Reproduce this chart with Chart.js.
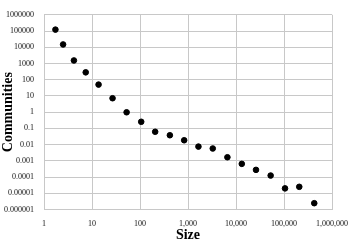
<!DOCTYPE html>
<html><head><meta charset="utf-8">
<script src="https://cdn.jsdelivr.net/npm/chart.js@4"></script>
<style>html,body{margin:0;padding:0;background:#fff}#c{display:block}</style>
</head><body>
<canvas id="c" width="358" height="243"></canvas>
<script>
const sizes = [1.73, 2.5, 4.2, 7.4, 13.7, 26.8, 52.6, 106, 207, 419, 832, 1650, 3280, 6620, 13200, 26100, 52700, 105000, 208000, 427000];
const communities = [122000, 14900, 1535, 284, 50, 7.2, 0.98, 0.255, 0.0618, 0.0377, 0.0185, 0.00755, 0.00578, 0.00166, 0.00065, 0.000277, 0.000124, 0.000020, 0.000025, 0.00000245];
const xTickValues = [1, 10, 100, 1000, 10000, 100000, 1000000];
const xTickLabels = ["1", "10", "100", "1,000", "10,000", "100,000", "1,000,000"];
const yTickValues = [0.000001, 0.00001, 0.0001, 0.001, 0.01, 0.1, 1, 10, 100, 1000, 10000, 100000, 1000000];
const yTickLabels = ["0.000001", "0.00001", "0.0001", "0.001", "0.01", "0.1", "1", "10", "100", "1000", "10000", "100000", "1000000"];

const pts = sizes.map((s, i) => ({x: s, y: communities[i]}));
const serif = "'Liberation Serif', 'DejaVu Serif', serif";

new Chart(document.getElementById('c'), {
  type: 'scatter',
  data: { datasets: [{ data: pts, backgroundColor: '#000', borderColor: '#000', pointRadius: 2.8, pointHoverRadius: 2.8 }] },
  options: {
    responsive: false, animation: false, devicePixelRatio: 1,
    layout: { padding: { top: 3, right: 19, left: 0, bottom: 0 } },
    plugins: { legend: { display: false }, tooltip: { enabled: false } },
    scales: {
      x: {
        type: 'logarithmic', min: 1, max: 1000000,
        afterBuildTicks: s => { s.ticks = xTickValues.map(v => ({value: v})); },
        afterFit: s => { s.height = 33.5; },
        ticks: { callback: (v, i) => xTickLabels[i], color: '#111', font: { family: serif, size: 8 }, maxRotation: 0, autoSkip: false, padding: 10 },
        grid: { color: '#c8c8c8', tickLength: 0 },
        border: { color: '#c8c8c8' },
        title: { display: true, text: 'Size', color: '#000', font: { family: serif, size: 14, weight: 'bold' }, padding: { top: 0, bottom: -1 } }
      },
      y: {
        type: 'logarithmic', min: 0.000001, max: 1000000,
        afterBuildTicks: s => { s.ticks = yTickValues.map(v => ({value: v})); },
        afterFit: s => { s.width = 44; },
        ticks: { callback: (v, i) => yTickLabels[i], color: '#111', font: { family: serif, size: 8 }, autoSkip: false, padding: 10 },
        grid: { color: '#c8c8c8', tickLength: 0 },
        border: { color: '#c8c8c8' },
        title: { display: true, text: 'Communities', color: '#000', font: { family: serif, size: 14, weight: 'bold' }, padding: 0 }
      }
    }
  }
});
</script>
</body></html>
